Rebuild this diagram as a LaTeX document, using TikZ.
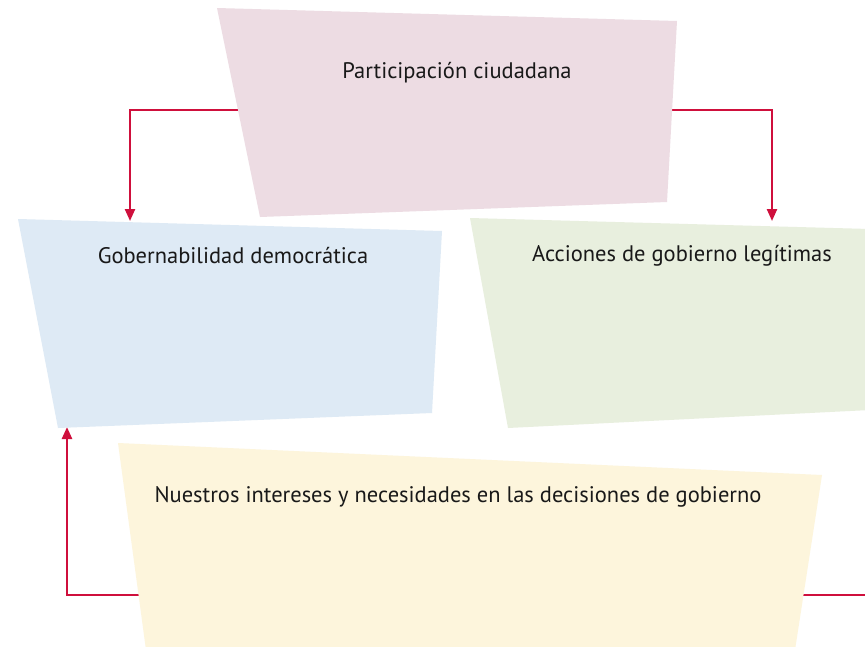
\documentclass[tikz,border=0pt]{standalone}
\usepackage{fontspec}
\setmainfont{PT Sans}
\usetikzlibrary{arrows.meta}
\definecolor{pinkbox}{HTML}{EDDCE3}
\definecolor{bluebox}{HTML}{DEEAF5}
\definecolor{greenbox}{HTML}{E8EFDE}
\definecolor{yellowbox}{HTML}{FDF5DC}
\definecolor{arrowred}{HTML}{CF0F3C}
\begin{document}
\begin{tikzpicture}[x=1pt,y=-1pt,
  lbl/.style={inner sep=0pt, font=\fontsize{22.5}{26}\selectfont, text=black!90},
  conn/.style={draw=arrowred, line width=2.3pt, -{Triangle[length=12pt,width=10pt]}},
  plainconn/.style={draw=arrowred, line width=2.3pt}]
\useasboundingbox (0,0) rectangle (865,646);
\fill[white] (0,0) rectangle (865,646);
% connectors (drawn below the boxes)
\coordinate (pl) at (300,110);
\coordinate (pr) at (620,110);
\coordinate (bt) at (130,221);
\coordinate (gt) at (772,221);
\coordinate (yl) at (200,595);
\coordinate (bb) at (67,427);
\coordinate (yr) at (700,595);
\coordinate (edge) at (865,595);
\draw[conn] (pl) -| (bt);
\draw[conn] (pr) -| (gt);
\draw[conn] (yl) -| (bb);
\draw[plainconn] (yr) -- (edge);
% boxes
\fill[pinkbox] (217,8) -- (677,21) -- (667,202) -- (260,217) -- cycle;
\fill[bluebox] (18,219) -- (442,231) -- (432,413) -- (58,428) -- cycle;
\fill[greenbox] (470,218) -- (870,229) -- (870,410) -- (508,428) -- cycle;
\fill[yellowbox] (118,443) -- (822,475) -- (795,650) -- (146,650) -- cycle;
% labels
\node[lbl] (tp) at (457,73) {Participación ciudadana};
\node[lbl] (tb) at (233,256) {Gobernabilidad democrática};
\node[lbl] (tg) at (682,256) {Acciones de gobierno legítimas};
\node[lbl] (ty) at (458,497) {Nuestros intereses y necesidades en las decisiones de gobierno};
\end{tikzpicture}
\end{document}
